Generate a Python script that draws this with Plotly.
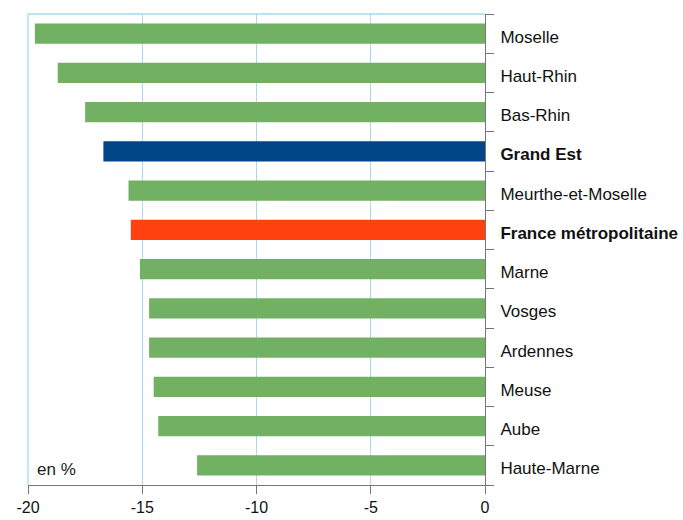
import plotly.graph_objects as go

# Territoires et variation (en %)
territoires = [
    "Moselle", "Haut-Rhin", "Bas-Rhin", "Grand Est", "Meurthe-et-Moselle",
    "France métropolitaine", "Marne", "Vosges", "Ardennes", "Meuse",
    "Aube", "Haute-Marne",
]
variation = [-19.7, -18.7, -17.5, -16.7, -15.6, -15.5, -15.1, -14.7, -14.7, -14.5, -14.3, -12.6]
x_ticks = [-20, -15, -10, -5, 0]

VERT = "#72B063"
BLEU = "#004586"
ROUGE = "#FF4110"
couleurs = []
libelles = []
for t in territoires:
    if t == "Grand Est":
        couleurs.append(BLEU)
        libelles.append("<b>" + t + "</b>")
    elif t == "France métropolitaine":
        couleurs.append(ROUGE)
        libelles.append("<b>" + t + "</b>")
    else:
        couleurs.append(VERT)
        libelles.append(t)

rangs = list(range(len(territoires)))
limites = [r - 0.5 for r in rangs] + [len(territoires) - 0.5]

fig = go.Figure(
    go.Bar(
        x=variation,
        y=rangs,
        orientation="h",
        marker=dict(color=couleurs, line=dict(width=0)),
        width=0.52,
        customdata=territoires,
        hovertemplate="%{customdata} : %{x}<extra></extra>",
    )
)

grid_blue = "#A9D8F2"
axis_gray = "#777777"
FONT = "Liberation Sans, Arial, sans-serif"

fig.update_layout(
    width=683,
    height=520,
    margin=dict(l=28, r=198, t=14, b=35),
    paper_bgcolor="white",
    plot_bgcolor="white",
    showlegend=False,
    font=dict(family=FONT, size=17, color="#111111"),
    xaxis=dict(
        range=[-20, 0],
        tickvals=x_ticks,
        ticktext=[str(v) for v in x_ticks],
        showgrid=True,
        gridcolor=grid_blue,
        gridwidth=1,
        zeroline=False,
        showline=True,
        linecolor=axis_gray,
        linewidth=1,
        ticks="outside",
        ticklen=8,
        tickcolor=axis_gray,
        ticklabelstandoff=0,
        tickfont=dict(family=FONT, size=16, color="#111111"),
        automargin=False,
        fixedrange=True,
    ),
    yaxis=dict(
        side="right",
        range=[len(territoires) - 0.5, -0.5],
        tickvals=rangs,
        ticktext=libelles,
        ticks="outside",
        ticklen=8,
        tickcolor="rgba(255,255,255,0)",
        ticklabelstandoff=3,
        ticklabelshift=-3,
        minor=dict(
            tickvals=limites,
            ticks="outside",
            ticklen=8,
            tickwidth=1,
            tickcolor=axis_gray,
            showgrid=False,
        ),
        showline=True,
        linecolor=axis_gray,
        linewidth=1,
        showgrid=False,
        zeroline=False,
        tickfont=dict(family=FONT, size=17, color="#111111"),
        automargin=False,
        fixedrange=True,
    ),
    shapes=[
        # cadre gauche et haut du graphique
        dict(type="line", xref="paper", yref="paper", x0=0, x1=0, y0=0, y1=1,
             line=dict(color="#CBE7F6", width=2.5), layer="above"),
        dict(type="line", xref="paper", yref="paper", x0=0, x1=1, y0=1, y1=1,
             line=dict(color=grid_blue, width=1.5), layer="above"),
    ],
    annotations=[
        dict(text="en %", xref="paper", yref="paper", x=0.015, y=0.008,
             xanchor="left", yanchor="bottom", showarrow=False,
             font=dict(family=FONT, size=17, color="#222222")),
    ],
)

fig.write_html("out.html")
